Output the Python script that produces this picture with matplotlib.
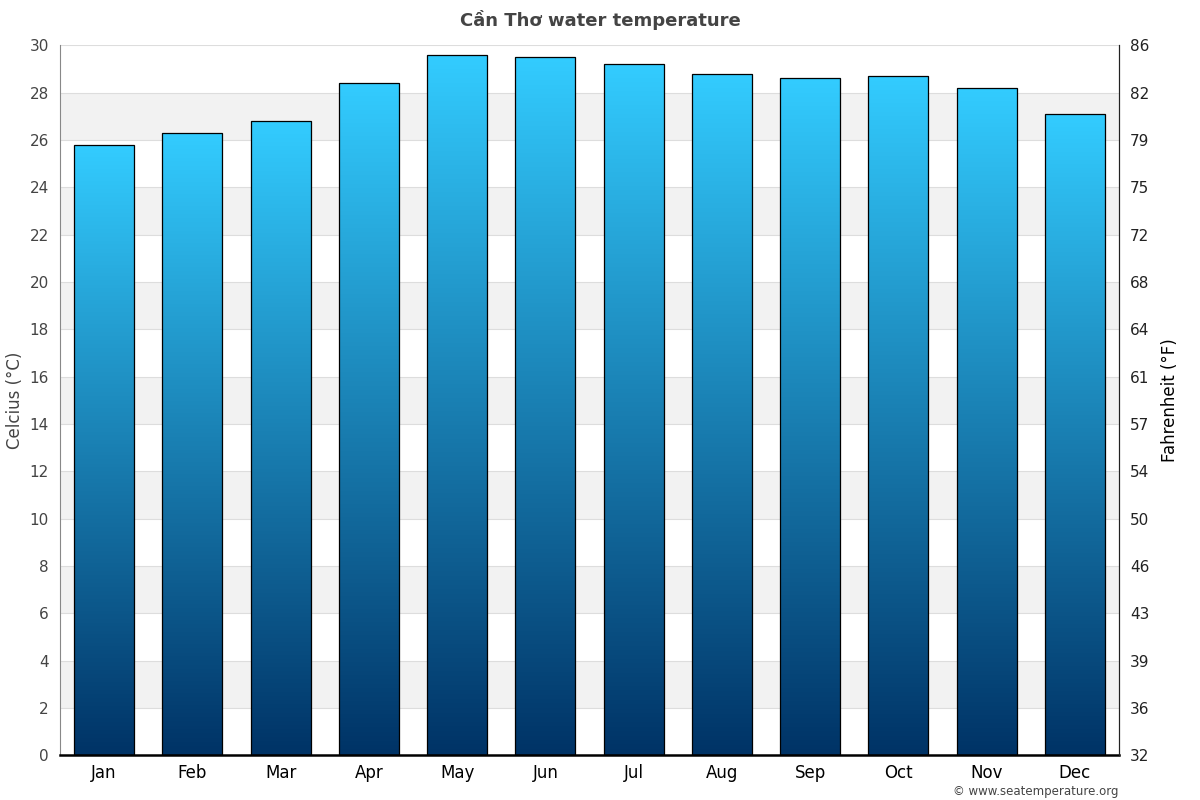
import os
import numpy as np
import matplotlib
matplotlib.use('Agg')
import matplotlib.pyplot as plt
from matplotlib import font_manager
from matplotlib.colors import LinearSegmentedColormap

# make sure the bundled DejaVu Sans is registered
ttf_dir = os.path.join(matplotlib.get_data_path(), 'fonts', 'ttf')
for fn in ['DejaVuSans.ttf', 'DejaVuSans-Bold.ttf']:
    p = os.path.join(ttf_dir, fn)
    if os.path.exists(p):
        font_manager.fontManager.addfont(p)
plt.rcParams['font.family'] = ['DejaVu Sans']

# Data
months = ['Jan', 'Feb', 'Mar', 'Apr', 'May', 'Jun', 'Jul', 'Aug', 'Sep', 'Oct', 'Nov', 'Dec']
temps_c = [25.8, 26.3, 26.8, 28.4, 29.6, 29.5, 29.2, 28.8, 28.6, 28.7, 28.2, 27.1]
c_ticks = list(range(0, 31, 2))

fig = plt.figure(figsize=(12, 8), dpi=100)
ax = fig.add_axes([0.05, 0.056, 0.8825, 0.8875])

# alternating background bands
for lo in range(2, 30, 4):
    ax.axhspan(lo, lo + 2, color='#f2f2f2', zorder=0, lw=0)
for t in c_ticks:
    ax.axhline(t, color='#dddddd', lw=0.8, zorder=0.5)

cmap = LinearSegmentedColormap.from_list('sea', ['#003366', '#33ccff'])
grad = np.linspace(1, 0, 256).reshape(-1, 1)

x = np.arange(len(months))
width = 0.68
bars = ax.bar(x, temps_c, width=width, facecolor='none', edgecolor='black', lw=0.9, zorder=3)
for b in bars:
    x0, w, h = b.get_x(), b.get_width(), b.get_height()
    im = ax.imshow(grad, cmap=cmap, aspect='auto', extent=(x0, x0 + w, 0, h), zorder=2)
    im.set_clip_path(b)

ax.set_xlim(-0.5, len(months) - 0.5)
ax.set_ylim(0, 30)
ax.set_xticks(x)
ax.set_xticklabels(months, fontsize=12)
ax.set_yticks(c_ticks)
ax.tick_params(axis='y', length=0, labelsize=11, labelcolor='#444444', pad=8)
ax.tick_params(axis='x', length=0, pad=6)
ax.set_ylabel('Celcius (°C)', fontsize=12, color='#444444')

ax.spines['top'].set_visible(False)
ax.spines['left'].set_color('#888888')
ax.spines['right'].set_color('#222222')
ax.spines['bottom'].set_color('black')
ax.spines['bottom'].set_linewidth(1.8)

ax2 = ax.twinx()
ax2.set_ylim(0, 30)
ax2.set_yticks(c_ticks)
ax2.set_yticklabels([str(int(round(c * 9 / 5 + 32))) for c in c_ticks])
ax2.tick_params(axis='y', length=0, labelsize=11, labelcolor='#222222', pad=8)
ax2.set_ylabel('Fahrenheit (°F)', fontsize=12, color='black', labelpad=8)
for s in ['top', 'left', 'bottom']:
    ax2.spines[s].set_visible(False)
ax2.spines['right'].set_color('#222222')

fig.text(0.5, 0.975, 'Cần Thơ water temperature', ha='center', va='center',
         fontsize=13, fontweight='bold', color='#444444')
fig.text(0.932, 0.011, '© www.seatemperature.org', ha='right', va='center',
         fontsize=8.5, color='#444444')

plt.savefig('out.png', dpi=100)
